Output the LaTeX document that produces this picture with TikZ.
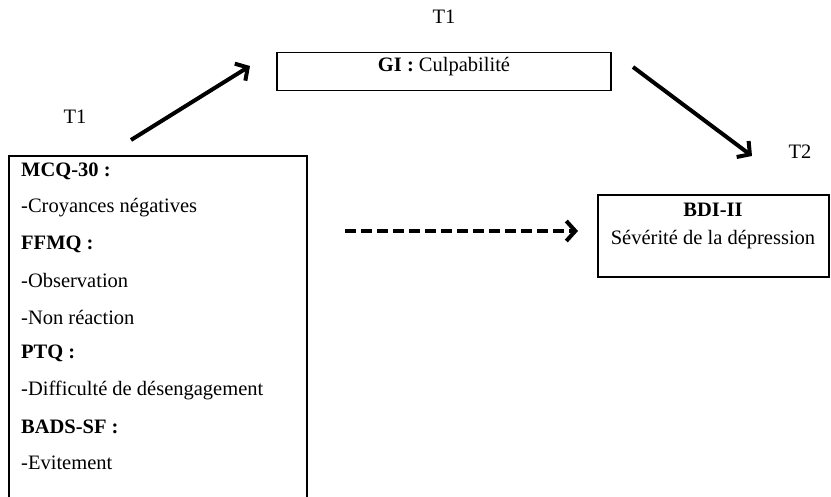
\documentclass[tikz,border=0pt]{standalone}
\usepackage{fontspec}
\setmainfont{Liberation Serif}
\usetikzlibrary{arrows.meta}
\begin{document}
\begin{tikzpicture}[x=1pt,y=-1pt]
        \tikzstyle{boxstyle}=[draw, line width=1.5pt, inner sep=0pt]
        \tikzstyle{textstyle}=[inner sep=0pt, font=\fontsize{20.5}{24}\selectfont]
        \tikzstyle{itemstyle}=[textstyle, anchor=west]
        \tikzstyle{arrowstyle}=[line width=4pt, arrows={-Straight Barb[length=9pt,width=20pt]}]
        \useasboundingbox (0,0) rectangle (831,497);

        % draw the box of the predictors, cut off at the bottom
        \draw[line width=1.5pt] (9,497) -- (9,156) -- (307,156) -- (307,497);
        \foreach \txt [count=\i from 0] in {{\textbf{MCQ-30 :}}, -Croyances négatives,
            {\textbf{FFMQ :}}, -Observation, -Non réaction, {\textbf{PTQ :}},
            -Difficulté de désengagement, {\textbf{BADS-SF :}}, -Evitement}
        {
          \node[itemstyle] (item\i) at (21, {171+36.5*\i}) {\txt};
        };

        % draw the mediator box
        \node[boxstyle, minimum width=334pt, minimum height=38pt] (gi) at (444,71.5) {};
        \node[textstyle] (gitext) at (444,67) {\textbf{GI :} Culpabilité};

        % draw the outcome box
        \node[boxstyle, minimum width=231pt, minimum height=82pt] (bdi) at (713.5,236) {};
        \node[textstyle] (bdititle) at (713,210) {\textbf{BDI-II}};
        \node[textstyle] (bditext) at (713,240) {Sévérité de la dépression};

        % time labels
        \node[textstyle] (tgi) at (444,17) {T1};
        \node[textstyle] (tpred) at (75,117) {T1};
        \node[textstyle] (tbdi) at (800,152) {T2};

        % end points of the paths
        \coordinate (predout) at (131,140);
        \coordinate (giin) at (250,66);
        \coordinate (giout) at (633,67);
        \coordinate (bdiin) at (752,156);
        \coordinate (directout) at (345,231);
        \coordinate (directin) at (578,231);

        % draw the indirect and direct paths
        \draw[arrowstyle] (predout) -- (giin);
        \draw[arrowstyle] (giout) -- (bdiin);
        \draw[arrowstyle, dash pattern=on 11pt off 5pt] (directout) -- (directin);
\end{tikzpicture}
\end{document}
